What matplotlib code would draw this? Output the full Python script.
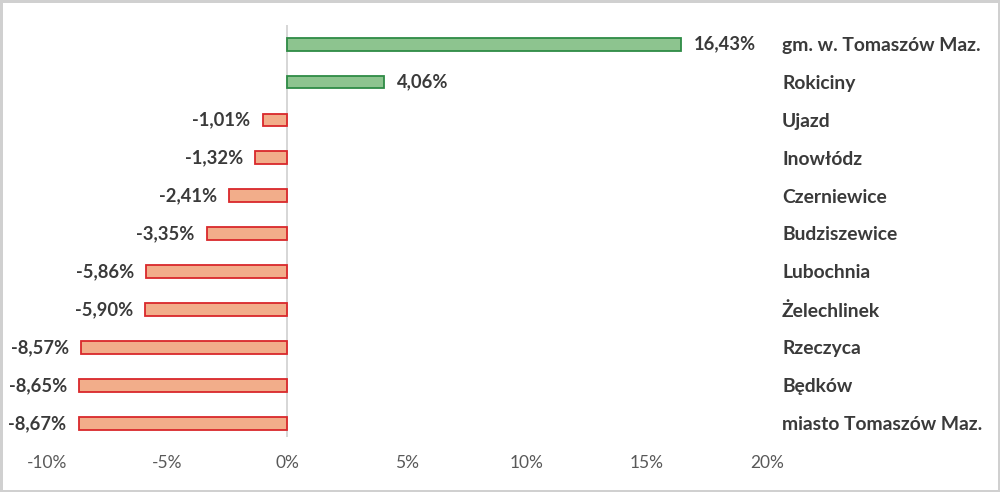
import numpy as np
import matplotlib
matplotlib.use("Agg")
import matplotlib.pyplot as plt
from matplotlib.ticker import FuncFormatter
from matplotlib.transforms import blended_transform_factory

### dane

gminy = [
    "gm. w. Tomaszów Maz.", "Rokiciny", "Ujazd", "Inowłódz", "Czerniewice",
    "Budziszewice", "Lubochnia", "Żelechlinek", "Rzeczyca", "Będków",
    "miasto Tomaszów Maz.",
]
zmiana = [16.43, 4.06, -1.01, -1.32, -2.41, -3.35, -5.86, -5.90, -8.57, -8.65, -8.67]

x_ticks = [-10, -5, 0, 5, 10, 15, 20]

plt.rcParams["font.family"] = ["Lato", "DejaVu Sans"]

KOL_POS = "#8dc48f"
KRAW_POS = "#2e8b45"
KOL_NEG = "#f2ad8a"
KRAW_NEG = "#d9282b"
TXT = "#3a3a3a"

fig = plt.figure(figsize=(10, 4.92), dpi=100)
fig.patch.set_edgecolor("#d0d0d0")
fig.patch.set_linewidth(2.5)
ax = fig.add_axes([0.047, 0.112, 0.72, 0.837])

y = np.arange(len(gminy))
kol = [KOL_POS if v >= 0 else KOL_NEG for v in zmiana]
kraw = [KRAW_POS if v >= 0 else KRAW_NEG for v in zmiana]
ax.barh(y, zmiana, height=0.34, color=kol, edgecolor=kraw, linewidth=1.3, zorder=2)

for yi, v in zip(y, zmiana):
    s = f"{v:.2f}%".replace(".", ",")
    if v >= 0:
        ax.annotate(s, (v, yi), xytext=(9, 0), textcoords="offset points",
                    ha="left", va="center", fontsize=13.2, fontweight="bold", color=TXT)
    else:
        ax.annotate(s, (v, yi), xytext=(-9, 0), textcoords="offset points",
                    ha="right", va="center", fontsize=13.2, fontweight="bold", color=TXT)

# etykiety gmin po prawej stronie
tr = blended_transform_factory(ax.transAxes, ax.transData)
for yi, nazwa in zip(y, gminy):
    ax.text(1.021, yi + 0.03, nazwa, transform=tr, ha="left", va="center",
            fontsize=13.9, fontweight="bold", color=TXT)

ax.axvline(0, color="#d0d0d0", lw=1.2, zorder=1)
ax.set_xlim(-10, 20)
ax.set_ylim(10.35, -0.5)
ax.set_xticks(x_ticks)
ax.xaxis.set_major_formatter(FuncFormatter(lambda v, p: f"{v:.0f}%"))
ax.tick_params(axis="x", length=0, pad=13, labelsize=12.5, labelcolor="#595959")
ax.set_yticks([])
for sp in ax.spines.values():
    sp.set_visible(False)

fig.savefig("out.png", dpi=100, edgecolor=fig.get_edgecolor())
